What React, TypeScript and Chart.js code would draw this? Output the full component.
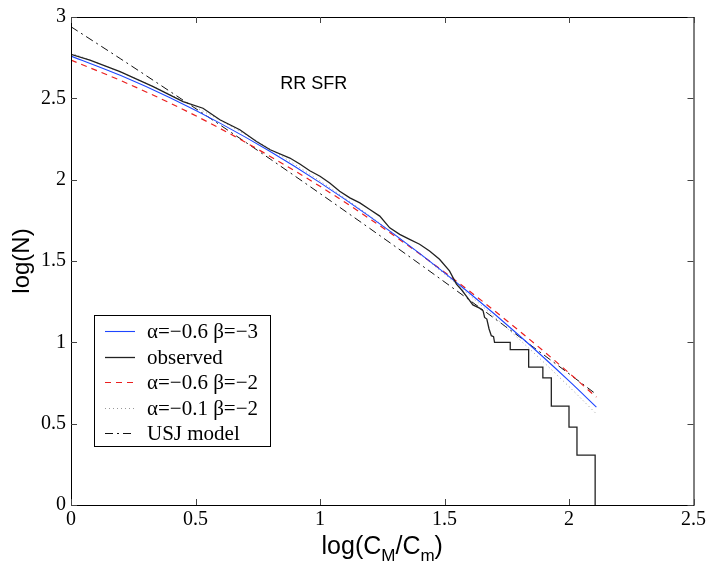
import React, { useEffect, useRef } from 'react';
import { Chart, registerables } from 'chart.js';

Chart.register(...registerables);

// axis ticks
const xTicks = [0, 0.5, 1, 1.5, 2, 2.5];
const yTicks = [0, 0.5, 1, 1.5, 2, 2.5, 3];

// model curves
const fitX = [0, 0.2, 0.4, 0.6, 0.8, 1.0, 1.2, 1.4, 1.6, 1.8, 2.0, 2.11];
const fitA06B3 = [2.76, 2.64, 2.502, 2.346, 2.173, 1.982, 1.773, 1.547, 1.303, 1.042, 0.763, 0.602];
const fitA06B2 = [2.735, 2.609, 2.469, 2.314, 2.143, 1.959, 1.759, 1.544, 1.315, 1.071, 0.812, 0.663];
const fitA01B2 = [2.78, 2.66, 2.522, 2.364, 2.188, 1.992, 1.777, 1.544, 1.291, 1.019, 0.728, 0.56];
const usjModel = [2.94, 2.742, 2.54, 2.335, 2.127, 1.915, 1.7, 1.482, 1.26, 1.035, 0.807, 0.68];

// observed cumulative counts (staircase in the tail)
const obsX = [0, 0.076, 0.197, 0.33, 0.45, 0.53, 0.598, 0.678, 0.745, 0.8, 0.879, 0.919, 0.959, 1.0,
  1.039, 1.079, 1.12, 1.16, 1.2, 1.24, 1.28, 1.32, 1.36, 1.4, 1.44, 1.48, 1.52, 1.548, 1.57, 1.59,
  1.614, 1.641, 1.655, 1.661, 1.67, 1.679, 1.688, 1.697, 1.701, 1.764, 1.764, 1.838, 1.838, 1.895,
  1.895, 1.929, 1.929, 2.0, 2.0, 2.032, 2.032, 2.105, 2.105];
const obsY = [2.77, 2.735, 2.664, 2.572, 2.48, 2.439, 2.368, 2.307, 2.235, 2.184, 2.133, 2.096, 2.055, 2.021,
  1.98, 1.929, 1.888, 1.857, 1.817, 1.776, 1.704, 1.664, 1.633, 1.603, 1.562, 1.511, 1.439, 1.358, 1.32, 1.28,
  1.23, 1.21, 1.194, 1.153, 1.143, 1.082, 1.041, 1.035, 1.0, 1.0, 0.955, 0.955, 0.847, 0.847,
  0.782, 0.782, 0.608, 0.608, 0.479, 0.479, 0.306, 0.306, 0];

const annotation = 'RR SFR';

const serif = '"Liberation Serif", "Times New Roman", serif';
const sans = '"Liberation Sans", Arial, sans-serif';

const pts = (xs: number[], ys: number[]) => xs.map((x, i) => ({ x, y: ys[i] }));

const frame = {
  id: 'frame',
  afterDatasetsDraw(chart: any) {
    const { ctx, chartArea: a, scales } = chart;
    const sx = scales.x;
    const sy = scales.y;
    ctx.save();

    // box
    ctx.strokeStyle = '#000';
    ctx.lineWidth = 1;
    ctx.strokeRect(a.left + 0.5, a.top + 0.5, a.right - a.left, a.bottom - a.top);

    // inward ticks on all four sides
    const tl = 6;
    ctx.strokeStyle = '#444';
    ctx.beginPath();
    xTicks.forEach((v) => {
      const px = Math.round(sx.getPixelForValue(v)) + 0.5;
      ctx.moveTo(px, a.bottom); ctx.lineTo(px, a.bottom - tl);
      ctx.moveTo(px, a.top); ctx.lineTo(px, a.top + tl);
    });
    yTicks.forEach((v) => {
      const py = Math.round(sy.getPixelForValue(v)) + 0.5;
      ctx.moveTo(a.left, py); ctx.lineTo(a.left + tl, py);
      ctx.moveTo(a.right, py); ctx.lineTo(a.right - tl, py);
    });
    ctx.stroke();

    // annotation
    ctx.fillStyle = '#000';
    ctx.font = '18px ' + sans;
    ctx.textBaseline = 'middle';
    ctx.textAlign = 'left';
    ctx.fillText(annotation, sx.getPixelForValue(0.84), sy.getPixelForValue(2.59));

    // legend
    const lx = a.left + 23;
    const ly = a.top + 298;
    const lw = 176;
    const lh = 131;
    ctx.fillStyle = '#fff';
    ctx.fillRect(lx, ly, lw, lh);
    ctx.strokeStyle = '#000';
    ctx.lineWidth = 1;
    ctx.strokeRect(lx + 0.5, ly + 0.5, lw, lh);
    const order = [1, 0, 2, 3, 4];
    order.forEach((di, i) => {
      const ds = chart.data.datasets[di];
      const ry = Math.round(ly + 16 + i * 25.5) + 0.5;
      ctx.save();
      ctx.strokeStyle = ds.borderColor;
      ctx.lineWidth = ds.borderWidth;
      ctx.setLineDash(ds.borderDash || []);
      ctx.beginPath();
      ctx.moveTo(lx + 11, ry);
      ctx.lineTo(lx + 41, ry);
      ctx.stroke();
      ctx.restore();
      ctx.fillStyle = '#000';
      ctx.font = '21px ' + serif;
      ctx.textBaseline = 'middle';
      ctx.fillText(ds.label, lx + 53, ry + 1);
    });

    // x axis title with subscripts
    const big = '25px ' + sans;
    const small = '17px ' + sans;
    const parts: [string, boolean][] = [['log(C', false], ['M', true], ['/C', false], ['m', true], [')', false]];
    let total = 0;
    parts.forEach(([t, sub]) => { ctx.font = sub ? small : big; total += ctx.measureText(t).width; });
    let cx = (a.left + a.right) / 2 - total / 2;
    const base = 554;
    ctx.textBaseline = 'alphabetic';
    parts.forEach(([t, sub]) => {
      ctx.font = sub ? small : big;
      ctx.fillText(t, cx, sub ? base + 7 : base);
      cx += ctx.measureText(t).width;
    });

    ctx.restore();
  },
};

export default function App() {
  const canvasRef = useRef<HTMLCanvasElement>(null);

  useEffect(() => {
    if (!canvasRef.current) return;
    const chart = new Chart(canvasRef.current, {
      type: 'line',
      data: {
        datasets: [
          {
            label: 'observed',
            data: pts(obsX, obsY),
            borderColor: '#222',
            borderWidth: 1.3,
            pointRadius: 0,
            tension: 0,
          },
          {
            label: 'α=−0.6 β=−3',
            data: pts(fitX, fitA06B3),
            borderColor: 'rgb(30,70,255)',
            borderWidth: 1.1,
            pointRadius: 0,
            cubicInterpolationMode: 'monotone',
          },
          {
            label: 'α=−0.6 β=−2',
            data: pts(fitX, fitA06B2),
            borderColor: 'rgb(235,30,30)',
            borderWidth: 1.2,
            borderDash: [6, 5],
            pointRadius: 0,
            cubicInterpolationMode: 'monotone',
          },
          {
            label: 'α=−0.1 β=−2',
            data: pts(fitX, fitA01B2),
            borderColor: '#999',
            borderWidth: 1,
            borderDash: [1, 3],
            pointRadius: 0,
            cubicInterpolationMode: 'monotone',
          },
          {
            label: 'USJ model',
            data: pts(fitX, usjModel),
            borderColor: '#111',
            borderWidth: 1,
            borderDash: [8, 4, 2, 4],
            pointRadius: 0,
            cubicInterpolationMode: 'monotone',
          },
        ],
      },
      options: {
        animation: false,
        responsive: true,
        maintainAspectRatio: false,
        layout: { padding: { left: 0, top: 15, right: 15, bottom: 0 } },
        plugins: { legend: { display: false }, tooltip: { enabled: false } },
        scales: {
          x: {
            type: 'linear',
            min: 0,
            max: 2.5,
            afterBuildTicks: (s: any) => { s.ticks = xTicks.map((v) => ({ value: v })); },
            afterFit: (s: any) => { s.height = 67; },
            grid: { display: false, drawTicks: false },
            border: { display: false },
            ticks: {
              color: '#000',
              font: { family: serif, size: 20 },
              padding: 3,
              maxRotation: 0,
              callback: (v: any) => String(+v),
            },
          },
          y: {
            type: 'linear',
            min: 0,
            max: 3,
            afterBuildTicks: (s: any) => { s.ticks = yTicks.map((v) => ({ value: v })); },
            afterFit: (s: any) => { s.width = 71; },
            grid: { display: false, drawTicks: false },
            border: { display: false },
            ticks: {
              color: '#000',
              font: { family: serif, size: 20 },
              padding: 5,
              callback: (v: any) => String(+v),
            },
            title: {
              display: true,
              text: 'log(N)',
              color: '#000',
              font: { family: sans, size: 24, weight: 'normal' },
              padding: { top: 8, bottom: 0 },
            },
          },
        },
      },
      plugins: [frame],
    });
    return () => chart.destroy();
  }, []);

  return (
    <div style={{ position: 'absolute', left: 0, top: 0, width: 709, height: 572, background: '#fff' }}>
      <canvas ref={canvasRef} />
    </div>
  );
}
